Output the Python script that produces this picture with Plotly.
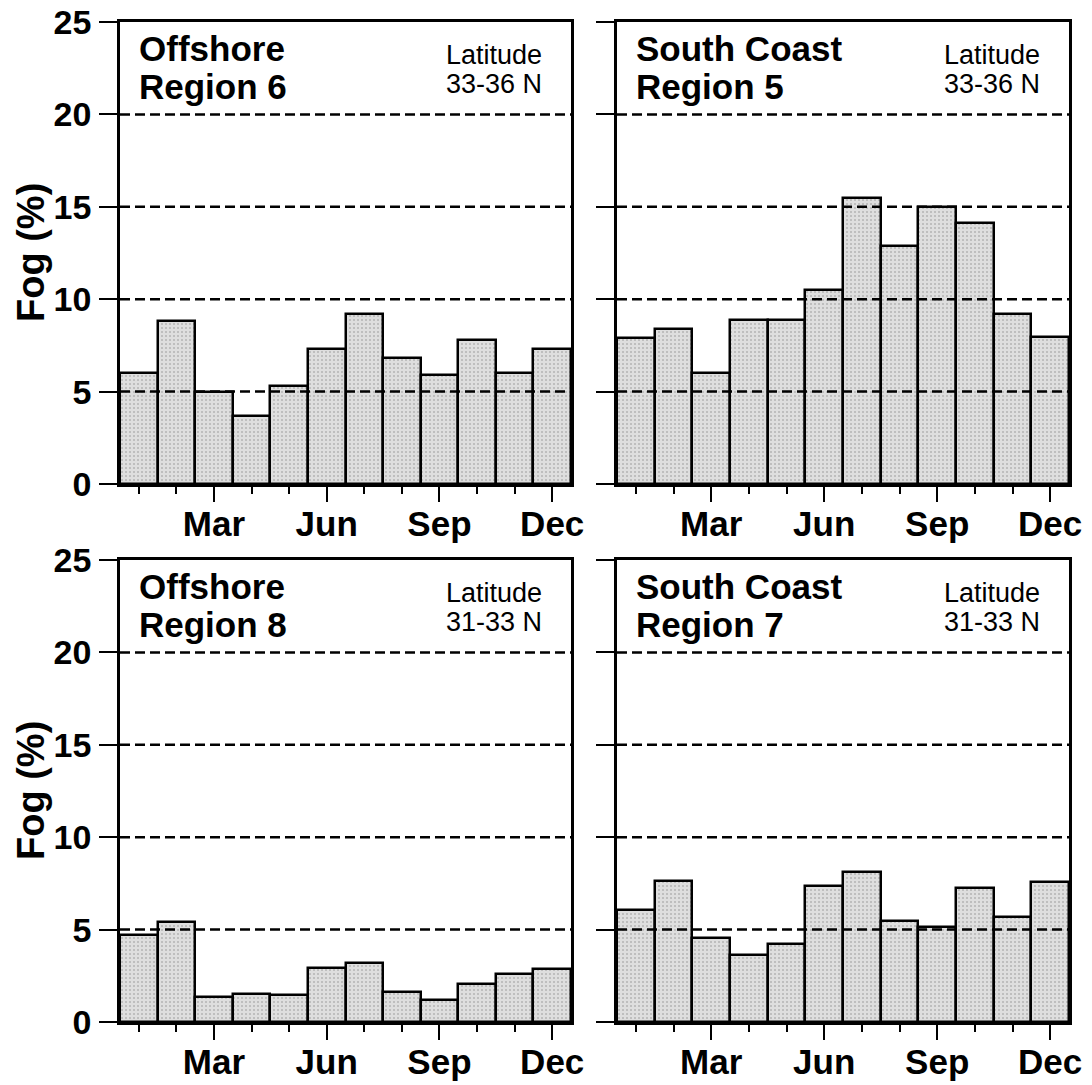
import plotly.graph_objects as go

# ---------------- data ----------------
months = list(range(1, 13))
month_tick_vals = [3, 6, 9, 12]
month_tick_text = ["Mar", "Jun", "Sep", "Dec"]
y_tick_vals = [0, 5, 10, 15, 20, 25]
grid_levels = [5, 10, 15, 20]

region6 = [6.0, 8.8, 5.0, 3.7, 5.3, 7.3, 9.2, 6.8, 5.9, 7.8, 6.0, 7.3]
region5 = [7.9, 8.4, 6.0, 8.85, 8.9, 10.5, 15.5, 12.9, 15.0, 14.15, 9.2, 7.95]
region8 = [4.7, 5.4, 1.35, 1.5, 1.45, 2.9, 3.2, 1.65, 1.2, 2.05, 2.6, 2.85]
region7 = [6.05, 7.65, 4.55, 3.6, 4.2, 7.35, 8.1, 5.45, 5.15, 7.25, 5.7, 7.55]

panel_names = [("Offshore", "Region 6"), ("South Coast", "Region 5"),
               ("Offshore", "Region 8"), ("South Coast", "Region 7")]
panel_lat = [("Latitude", "33-36 N"), ("Latitude", "33-36 N"),
             ("Latitude", "31-33 N"), ("Latitude", "31-33 N")]
panel_values = [region6, region5, region8, region7]
y_title = "Fog (%)"

# ---------------- layout geometry (page pixels) ----------------
PAGE_OFF = 8                     # default body margin of the html page
W, H = 1092 - PAGE_OFF, 1085 - PAGE_OFF
col_px = [(120, 571), (617, 1069)]
row_px = [(22, 484), (560, 1022)]

def px_x(x):
    return (x - PAGE_OFF) / W

def px_y(y):
    return 1 - (y - PAGE_OFF) / H

FONT = "Liberation Sans, Arial, Helvetica, sans-serif"

fig = go.Figure()
annotations = []
shapes = []

for i, vals in enumerate(panel_values):
    r, c = divmod(i, 2)
    idx = "" if i == 0 else str(i + 1)
    xa, ya = "x" + idx, "y" + idx
    fig.add_trace(go.Bar(
        x=months, y=vals, width=1.0, xaxis=xa, yaxis=ya,
        marker=dict(color="#dedede",
                    line=dict(color="black", width=2.5),
                    pattern=dict(shape=".", fgcolor="#8a8a8a", size=4, solidity=0.2)),
        showlegend=False, hoverinfo="x+y",
    ))
    x0p, x1p = col_px[c]
    y0p, y1p = row_px[r]
    fig.layout["xaxis" + idx] = dict(
        domain=[px_x(x0p), px_x(x1p)], anchor=ya, range=[0.5, 12.5],
        showline=True, linecolor="black", linewidth=2.5, mirror=True,
        showgrid=False, zeroline=False, automargin=False,
        tickmode="array", tickvals=month_tick_vals, ticktext=month_tick_text,
        ticks="outside", ticklen=15, tickwidth=2, tickcolor="black",
        minor=dict(tickmode="linear", tick0=1, dtick=1, ticks="outside",
                   ticklen=7, tickwidth=2, tickcolor="black", showgrid=False),
        tickfont=dict(family=FONT, size=35, color="black", weight="bold"),
        ticklabelstandoff=-8, ticklabeloverflow="allow",
        fixedrange=True,
    )
    fig.layout["yaxis" + idx] = dict(
        domain=[px_y(y1p), px_y(y0p)], anchor=xa, range=[0, 25],
        showline=True, linecolor="black", linewidth=2.5, mirror=True,
        showgrid=False, zeroline=False, automargin=False,
        tickmode="array", tickvals=y_tick_vals,
        ticks="outside", ticklen=18, tickwidth=2, tickcolor="black",
        showticklabels=(c == 0),
        tickfont=dict(family=FONT, size=34, color="black", weight="bold"),
        ticklabelstandoff=1, ticklabeloverflow="allow",
        fixedrange=True,
    )
    for g in grid_levels:
        shapes.append(dict(type="line", xref=xa + " domain", yref=ya,
                           x0=0, x1=1, y0=g, y1=g, layer="above",
                           line=dict(color="black", width=2.5, dash="10px,5px")))
    # panel labels
    t1, t2 = panel_names[i]
    l1, l2 = panel_lat[i]
    for txt, dy in ((t1, 26), (t2, 64)):
        annotations.append(dict(text=txt, xref="paper", yref="paper",
                                x=px_x(x0p + 17), y=px_y(y0p + dy),
                                xanchor="left", yanchor="middle", showarrow=False,
                                font=dict(family=FONT, size=35, color="black", weight="bold")))
    for txt, dy in ((l1, 33), (l2, 62)):
        annotations.append(dict(text=txt, xref="paper", yref="paper",
                                x=px_x(x1p - 127), y=px_y(y0p + dy),
                                xanchor="left", yanchor="middle", showarrow=False,
                                font=dict(family=FONT, size=27, color="black")))
    if c == 0:
        annotations.append(dict(text=y_title, xref="paper", yref="paper",
                                x=px_x(31), y=px_y((y0p + y1p) / 2),
                                xanchor="center", yanchor="middle", textangle=-90,
                                showarrow=False,
                                font=dict(family=FONT, size=38, color="black", weight="bold")))

fig.update_layout(
    width=W, height=H,
    margin=dict(l=0, r=0, t=0, b=0, autoexpand=False),
    paper_bgcolor="white", plot_bgcolor="white",
    bargap=0, annotations=annotations, shapes=shapes,
    showlegend=False,
)

fig.write_html("out.html")
